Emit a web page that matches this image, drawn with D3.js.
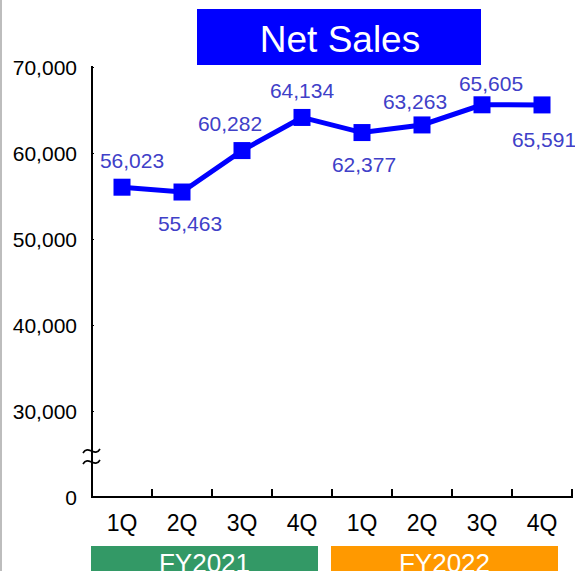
<!DOCTYPE html>
<html>
<head>
<meta charset="utf-8">
<script src="https://cdn.jsdelivr.net/npm/d3@7"></script>
<style>
  body { margin: 0; background: #fff; }
  svg { display: block; font-family: Arial, "Liberation Sans", sans-serif; }
</style>
</head>
<body>
<svg id="chart" width="575" height="571"></svg>
<script>
// data
var quarters = ["1Q", "2Q", "3Q", "4Q", "1Q", "2Q", "3Q", "4Q"];
var netSales = [56023, 55463, 60282, 64134, 62377, 63263, 65605, 65591];
var fiscalYears = ["FY2021", "FY2022"];
var fyColors = ["#339966", "#FF9900"];
var yTicks = [30000, 40000, 50000, 60000, 70000];
var title = "Net Sales";

// where each value label sits relative to its marker
var labelPlace = [
  {dx: 10, dy: -19}, {dx: 8, dy: 39}, {dx: -12, dy: -20}, {dx: 0, dy: -19},
  {dx: 2, dy: 39}, {dx: -7, dy: -16}, {dx: 9, dy: -14}, {dx: 2, dy: 42}
];

var params = {
  plot: {left: 92, right: 572, top: 67, bottom: 497},
  axisBase: 20000 // shown as "0" below the axis break
};

var svg = d3.select("#chart");

// grey frame edge at the left
svg.append("rect").attr("x", 0).attr("y", 0).attr("width", 2).attr("height", 571).attr("fill", "#bdbdbd");

var scale = {
  x: d3.scaleBand().domain(d3.range(quarters.length)).range([params.plot.left, params.plot.right]),
  y: d3.scaleLinear().domain([params.axisBase, 70000]).range([params.plot.bottom, params.plot.top])
};

// title box
var tb = svg.append("g");
tb.append("rect").attr("x", 197).attr("y", 9).attr("width", 284).attr("height", 56).attr("fill", "#0000FF");
tb.append("text").attr("x", 340).attr("y", 52).attr("text-anchor", "middle")
  .attr("fill", "#fff").attr("font-size", 37).text(title);

// y axis
var gy = svg.append("g").attr("transform", "translate(" + params.plot.left + ",0)");
gy.call(d3.axisRight(scale.y).tickValues(yTicks).tickSize(2).tickFormat(""));
gy.select(".domain").remove();
gy.selectAll(".tick line").attr("stroke", "#000").attr("stroke-width", 1);
gy.append("line").attr("x1", 0).attr("x2", 0)
  .attr("y1", params.plot.top - 1).attr("y2", params.plot.bottom + 1)
  .attr("stroke", "#000").attr("stroke-width", 2);

var yLabels = yTicks.map(function(v) { return {v: v, t: d3.format(",")(v)}; });
yLabels.push({v: params.axisBase, t: "0"});
svg.append("g").selectAll("text").data(yLabels).enter().append("text")
  .attr("x", 77).attr("y", function(d) { return scale.y(d.v) + 8; })
  .attr("text-anchor", "end").attr("font-size", 21).attr("fill", "#000")
  .text(function(d) { return d.t; });

// axis break squiggles
var brk = svg.append("g").attr("fill", "none").attr("stroke", "#000").attr("stroke-width", 1.6);
[451, 462].forEach(function(cy) {
  var l = params.plot.left;
  brk.append("path").attr("d",
    "M" + (l - 9) + "," + (cy + 2) +
    " C" + (l - 4) + "," + (cy - 7) + " " + (l + 3) + "," + (cy + 7) +
    " " + (l + 8) + "," + (cy - 2));
});

// x axis
var gx = svg.append("g").attr("transform", "translate(0," + params.plot.bottom + ")");
gx.append("line").attr("x1", params.plot.left).attr("x2", params.plot.right + 1)
  .attr("stroke", "#000").attr("stroke-width", 2);
gx.selectAll("line.tick").data(d3.range(1, quarters.length + 1)).enter().append("line")
  .attr("class", "tick")
  .attr("x1", function(i) { return params.plot.left + i * scale.x.bandwidth(); })
  .attr("x2", function(i) { return params.plot.left + i * scale.x.bandwidth(); })
  .attr("y1", 0).attr("y2", -8).attr("stroke", "#000").attr("stroke-width", 2);
gx.selectAll("text").data(quarters).enter().append("text")
  .attr("x", function(d, i) { return scale.x(i) + scale.x.bandwidth() / 2; })
  .attr("y", 34).attr("text-anchor", "middle").attr("font-size", 23).attr("fill", "#000")
  .text(function(d) { return d; });

// fiscal year bands
var fyG = svg.append("g");
fiscalYears.forEach(function(fy, k) {
  var x0 = scale.x(k * 4) - 1;
  var x1 = scale.x(k * 4 + 3) + scale.x.bandwidth() - 14;
  fyG.append("rect").attr("x", x0).attr("y", 546).attr("width", x1 - x0).attr("height", 26).attr("fill", fyColors[k]);
  fyG.append("text").attr("x", (x0 + x1) / 2).attr("y", 572).attr("text-anchor", "middle")
    .attr("fill", "#fff").attr("font-size", 26).text(fy);
});

// line + markers
var cx = function(d, i) { return scale.x(i) + scale.x.bandwidth() / 2; };
var line = d3.line().x(cx).y(function(d) { return scale.y(d); });
svg.append("path").datum(netSales).attr("d", line)
  .attr("fill", "none").attr("stroke", "#0000FF").attr("stroke-width", 5);
svg.append("g").selectAll("rect").data(netSales).enter().append("rect")
  .attr("x", function(d, i) { return cx(d, i) - 8.5; })
  .attr("y", function(d) { return scale.y(d) - 8.5; })
  .attr("width", 17).attr("height", 17).attr("fill", "#0000FF");

// value labels
svg.append("g").selectAll("text").data(netSales).enter().append("text")
  .attr("x", function(d, i) { return cx(d, i) + labelPlace[i].dx; })
  .attr("y", function(d, i) { return scale.y(d) + labelPlace[i].dy; })
  .attr("text-anchor", "middle").attr("font-size", 21).attr("fill", "#4040C8")
  .text(function(d) { return d3.format(",")(d); });
</script>
</body>
</html>
